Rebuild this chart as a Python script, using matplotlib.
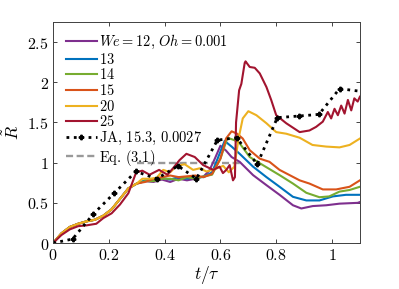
import matplotlib
matplotlib.use('Agg')
import matplotlib.pyplot as plt
from matplotlib.ticker import FixedLocator

plt.rcParams['mathtext.fontset'] = 'cm'
plt.rcParams['font.family'] = 'serif'
plt.rcParams['font.serif'] = ['DejaVu Serif']

# data
t_early = [0, 0.03, 0.06, 0.09, 0.12, 0.15, 0.18, 0.21, 0.24, 0.27, 0.30]
r_early = [0, 0.12, 0.20, 0.24, 0.27, 0.29, 0.34, 0.42, 0.55, 0.68, 0.74]

t_12 = t_early + [0.33, 0.36, 0.39, 0.42, 0.45, 0.48, 0.51, 0.54, 0.56, 0.58, 0.60, 0.62, 0.64,
                  0.669, 0.717, 0.765, 0.812, 0.86, 0.89, 0.931, 0.979, 1.027, 1.092, 1.1]
r_12 = r_early + [0.77, 0.76, 0.79, 0.76, 0.80, 0.78, 0.80, 0.83, 0.90, 1.05, 1.21, 1.15, 1.07,
                  1.01, 0.845, 0.72, 0.60, 0.47, 0.43, 0.46, 0.47, 0.49, 0.50, 0.51]

t_13 = t_early + [0.33, 0.36, 0.39, 0.42, 0.45, 0.48, 0.51, 0.54, 0.57, 0.59, 0.615, 0.64,
                  0.669, 0.717, 0.765, 0.812, 0.86, 0.908, 0.955, 1.003, 1.05, 1.1]
r_13 = r_early + [0.78, 0.78, 0.81, 0.79, 0.82, 0.80, 0.82, 0.82, 0.88, 1.05, 1.27, 1.20,
                  1.11, 0.95, 0.82, 0.70, 0.575, 0.53, 0.53, 0.58, 0.60, 0.60]

t_14 = t_early + [0.33, 0.36, 0.39, 0.42, 0.45, 0.48, 0.51, 0.54, 0.57, 0.60, 0.625, 0.65,
                  0.669, 0.705, 0.752, 0.812, 0.86, 0.908, 0.955, 0.99, 1.027, 1.063, 1.1]
r_14 = r_early + [0.77, 0.77, 0.80, 0.80, 0.78, 0.82, 0.80, 0.83, 0.85, 1.05, 1.31, 1.28,
                  1.24, 1.07, 0.97, 0.845, 0.74, 0.625, 0.57, 0.58, 0.64, 0.66, 0.70]

t_15 = t_early + [0.33, 0.36, 0.39, 0.42, 0.45, 0.48, 0.51, 0.54, 0.57, 0.60, 0.62, 0.64, 0.66,
                  0.68, 0.705, 0.741, 0.776, 0.812, 0.848, 0.884, 0.919, 0.967, 1.015, 1.063, 1.1]
r_15 = r_early + [0.76, 0.80, 0.82, 0.84, 0.82, 0.83, 0.84, 0.82, 0.86, 1.05, 1.30, 1.39, 1.36,
                  1.30, 1.155, 1.05, 1.01, 0.91, 0.845, 0.78, 0.74, 0.667, 0.667, 0.70, 0.78]

t_20 = t_early + [0.32, 0.347, 0.371, 0.395, 0.42, 0.443, 0.472, 0.502, 0.526, 0.55, 0.58, 0.61,
                  0.63, 0.65, 0.665, 0.68, 0.70, 0.729, 0.765, 0.80, 0.836, 0.884, 0.93, 0.979,
                  1.027, 1.063, 1.1]
r_20 = r_early + [0.80, 0.80, 0.81, 0.91, 0.88, 0.96, 0.98, 0.91, 0.93, 0.89, 0.92, 0.96,
                  0.88, 0.95, 1.30, 1.55, 1.64, 1.59, 1.49, 1.38, 1.36, 1.31, 1.22, 1.20,
                  1.19, 1.22, 1.30]

t_25 = [0, 0.03, 0.06, 0.09, 0.12, 0.155, 0.18, 0.21, 0.24, 0.27, 0.298, 0.32, 0.346, 0.38,
        0.41, 0.43, 0.453, 0.478, 0.508, 0.538, 0.574, 0.597, 0.609, 0.621, 0.633, 0.645,
        0.652, 0.656, 0.667, 0.675, 0.687, 0.69, 0.705, 0.723, 0.741, 0.765, 0.782, 0.80,
        0.836, 0.884, 0.919, 0.943, 0.967, 0.985, 0.997, 1.009, 1.021, 1.033, 1.045, 1.057,
        1.069, 1.080, 1.092, 1.1]
r_25 = [0, 0.10, 0.17, 0.21, 0.22, 0.24, 0.31, 0.37, 0.48, 0.62, 0.88, 0.90, 0.85, 0.91,
        0.85, 0.93, 1.03, 1.11, 1.07, 0.97, 0.91, 0.95, 0.87, 0.91, 0.97, 0.78,
        0.82, 1.50, 1.90, 1.98, 2.24, 2.26, 2.19, 2.18, 2.11, 1.94, 1.78, 1.59,
        1.49, 1.38, 1.40, 1.445, 1.51, 1.63, 1.55, 1.67, 1.59, 1.71, 1.61, 1.78,
        1.65, 1.80, 1.76, 1.82]

t_ja = [0, 0.07, 0.144, 0.219, 0.297, 0.372, 0.448, 0.514, 0.589, 0.658, 0.732, 0.804, 0.881,
        0.953, 1.027, 1.12]
r_ja = [0, 0.05, 0.36, 0.62, 0.89, 0.80, 0.96, 0.80, 1.28, 1.31, 0.98, 1.56, 1.58,
        1.60, 1.92, 1.88]

t_eq = [0.30, 0.68]
r_eq = [1.0, 1.0]

labels = [r'$We=12,\,Oh=0.001$', r'$13$', r'$14$', r'$15$', r'$20$', r'$25$']
colors = ['#7E2F8E', '#0072BD', '#77AC30', '#D95319', '#EDB120', '#A2142F']

fig = plt.figure(figsize=(3.99, 2.89), dpi=100)
ax = fig.add_axes([0.133, 0.159, 0.769, 0.765])

h_eq, = ax.plot(t_eq, r_eq, color='#999999', lw=1.7, dashes=(3, 1.5), label=r'$\mathrm{Eq.\,(3.1)}$')
handles = []
for t, r, c, lab in zip([t_12, t_13, t_14, t_15, t_20, t_25],
                        [r_12, r_13, r_14, r_15, r_20, r_25], colors, labels):
    h, = ax.plot(t, r, color=c, lw=1.5, label=lab)
    handles.append(h)
h_ja, = ax.plot(t_ja, r_ja, color='black', lw=2, ls=':', marker='P', ms=3.2,
                label=r'$\mathrm{JA,\,15.3,\,0.0027}$')
handles += [h_ja, h_eq]

ax.set_xlim(0, 1.1)
ax.set_ylim(0, 2.75)
xt = [0, 0.2, 0.4, 0.6, 0.8, 1]
yt = [0, 0.5, 1, 1.5, 2, 2.5]
ax.xaxis.set_major_locator(FixedLocator(xt))
ax.yaxis.set_major_locator(FixedLocator(yt))
ax.set_xticklabels([r'$%s$' % s for s in ['0', '0.2', '0.4', '0.6', '0.8', '1']], fontsize=11.5)
ax.set_yticklabels([r'$%s$' % s for s in ['0', '0.5', '1', '1.5', '2', '2.5']], fontsize=11.5)
ax.tick_params(direction='in', top=True, right=True, length=3, width=0.6, colors='#262626',
               labelcolor='black', pad=3)
for s in ax.spines.values():
    s.set_linewidth(0.7)
    s.set_color('#404040')
ax.set_xlabel(r'$t/\tau$', fontsize=12.5, labelpad=0)
ax.set_ylabel(r'$\tilde{R}$', fontsize=12.5, labelpad=3)

ax.legend(handles=handles, loc='upper left', frameon=False, fontsize=10.4,
          labelspacing=0.04, handlelength=2.1, handletextpad=0.2, borderaxespad=0.3,
          bbox_to_anchor=(0.01, 0.995))

fig.savefig('out.png', dpi=100)
